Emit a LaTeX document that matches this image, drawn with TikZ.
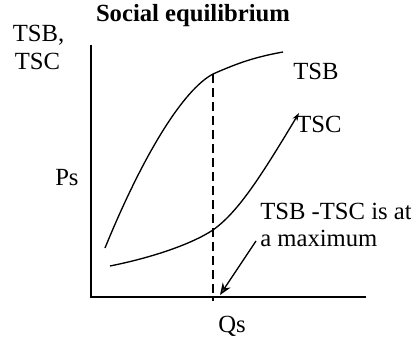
\documentclass[tikz,border=0pt]{standalone}
\usepackage{fontspec}
\setmainfont{Liberation Serif}
\usetikzlibrary{arrows.meta,positioning}

\begin{document}
\begin{tikzpicture}[x=0.75pt,y=-0.75pt,>=Stealth,
    lbl/.style={font=\fontsize{18.5}{21}\selectfont,inner sep=0pt,anchor=base west}]
      \useasboundingbox (0,0) rectangle (411,338);
      % axes
      \coordinate (O) at (91,297);
      \draw[line width=1.3pt] (91,45)--(O)--(366,297);
      \node[lbl,anchor=base] (title) at (193,22) {\bfseries Social equilibrium};
      \node[lbl,anchor=base] (ylab1) at (38.5,42) {TSB,};
      \node[lbl,anchor=base] (ylab2) at (37.5,70) {TSC};
      \node[lbl] (ps) at (55,186) {Ps};
      \node[lbl] (qs) at (218,333) {Qs};
      % curves
      \coordinate (E) at (213,74);
      \coordinate (C) at (213,230);
      \draw[line width=1pt] (105,248) .. controls (143,155) and (183,90) .. (E)
            .. controls (238,63) and (255,57) .. (283,52);
      \draw[line width=1pt,arrows={->[length=6pt,width=4pt]}] (110,266) .. controls (150,258) and (190,245) .. (C)
            .. controls (238,212) and (260,178) .. (299,113);
      \draw[line width=1pt,dash pattern=on 7pt off 3.5pt] (E)--(213,301);
      \node[lbl] (tsb) at (293,80) {TSB};
      \node[lbl] (tsc) at (296,133) {TSC};
      % maximum note
      \node[lbl,align=left] (note) at (260,247) {TSB -TSC is at\\[-0.75pt]a maximum};
      \coordinate (A) at (256,241);
      \coordinate (Q) at (220,295);
      \draw[line width=1pt,arrows={->[length=9pt,width=7pt,fill=black!70]}] (A)--(Q);
    \end{tikzpicture}
\end{document}
